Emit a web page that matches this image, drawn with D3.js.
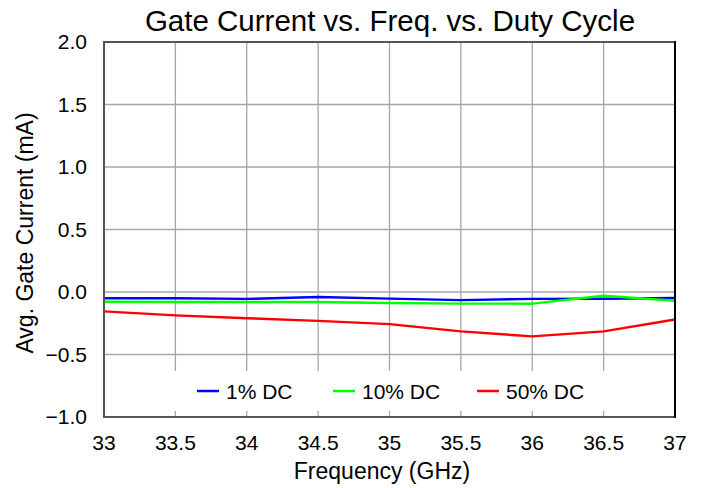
<!DOCTYPE html>
<html>
<head>
<meta charset="utf-8">
<script src="https://d3js.org/d3.v7.min.js"></script>
<title>Gate Current vs. Freq. vs. Duty Cycle</title>
<style>
  body { margin: 0; background: #fff; }
  text { font-family: "Liberation Sans", Arial, sans-serif; fill: #000; }
</style>
</head>
<body>
<div id="chart"></div>
<script>
// data
var freq = [33, 33.5, 34, 34.5, 35, 35.5, 36, 36.5, 37];
var dc1  = [-0.05, -0.05, -0.055, -0.04, -0.053, -0.065, -0.055, -0.053, -0.048];
var dc10 = [-0.078, -0.08, -0.08, -0.08, -0.088, -0.093, -0.093, -0.03, -0.07];
var dc50 = [-0.155, -0.187, -0.21, -0.231, -0.257, -0.315, -0.355, -0.315, -0.22];
var seriesNames = ["1% DC", "10% DC", "50% DC"];
var seriesColors = ["#0000ff", "#00ff00", "#ff0000"];
var xTicks = [33, 33.5, 34, 34.5, 35, 35.5, 36, 36.5, 37];
var yTicks = [-1.0, -0.5, 0.0, 0.5, 1.0, 1.5, 2.0];

var width = 702, height = 488;
var pLeft = 104, pRight = 675, pTop = 42, pBottom = 417;

var svg = d3.select("#chart").append("svg")
  .attr("width", width)
  .attr("height", height);

var x = d3.scaleLinear().domain([33, 37]).range([pLeft, pRight]);
var y = d3.scaleLinear().domain([-1, 2]).range([pBottom, pTop]);

// grid
svg.append("g").selectAll("line")
  .data(xTicks.slice(1, -1)).enter()
  .append("line")
  .attr("x1", function(d) { return x(d); })
  .attr("x2", function(d) { return x(d); })
  .attr("y1", pTop).attr("y2", pBottom)
  .attr("stroke", "#a6a6a6").attr("stroke-width", 1.3);

svg.append("g").selectAll("line")
  .data(yTicks.slice(1, -1)).enter()
  .append("line")
  .attr("x1", pLeft).attr("x2", pRight)
  .attr("y1", function(d) { return y(d); })
  .attr("y2", function(d) { return y(d); })
  .attr("stroke", "#a6a6a6").attr("stroke-width", 1.3);

// series
var series = [dc1, dc10, dc50];
var line = d3.line()
  .x(function(d, i) { return x(freq[i]); })
  .y(function(d) { return y(d); });

series.forEach(function(s, k) {
  svg.append("path")
    .datum(s)
    .attr("d", line)
    .attr("fill", "none")
    .attr("stroke", seriesColors[k])
    .attr("stroke-width", 2.5)
    .attr("stroke-linejoin", "round");
});

// legend (white box over the grid)
svg.append("rect")
  .attr("x", 130).attr("y", 371)
  .attr("width", 520).attr("height", 40)
  .attr("fill", "#fff");

var legendX = [197, 333, 477];
seriesNames.forEach(function(name, k) {
  var g = svg.append("g").attr("transform", "translate(" + legendX[k] + ",391)");
  g.append("line")
    .attr("x1", 0).attr("x2", 22)
    .attr("y1", 0).attr("y2", 0)
    .attr("stroke", seriesColors[k]).attr("stroke-width", 2.5);
  g.append("text")
    .attr("x", 29).attr("y", 7.5)
    .attr("font-size", 21)
    .text(name);
});

// frame
svg.append("rect")
  .attr("x", pLeft).attr("y", pTop)
  .attr("width", pRight - pLeft).attr("height", pBottom - pTop)
  .attr("fill", "none")
  .attr("stroke", "#555").attr("stroke-width", 2);
svg.append("line")
  .attr("x1", pRight).attr("x2", pRight)
  .attr("y1", pTop - 1).attr("y2", pBottom + 1)
  .attr("stroke", "#000").attr("stroke-width", 2);

// tick labels
svg.append("g").selectAll("text")
  .data(xTicks).enter()
  .append("text")
  .attr("x", function(d) { return x(d); })
  .attr("y", 450)
  .attr("text-anchor", "middle")
  .attr("font-size", 21)
  .text(function(d) { return d3.format("")(d); });

svg.append("g").selectAll("text")
  .data(yTicks).enter()
  .append("text")
  .attr("x", 87)
  .attr("y", function(d) { return y(d) + 7; })
  .attr("text-anchor", "end")
  .attr("font-size", 21)
  .text(function(d) { return d3.format(".1f")(d); });

// titles
svg.append("text")
  .attr("x", 390).attr("y", 31)
  .attr("text-anchor", "middle")
  .attr("font-size", 29.5)
  .text("Gate Current vs. Freq. vs. Duty Cycle");

svg.append("text")
  .attr("x", 382).attr("y", 479)
  .attr("text-anchor", "middle")
  .attr("font-size", 23)
  .text("Frequency (GHz)");

svg.append("text")
  .attr("transform", "translate(33,233) rotate(-90)")
  .attr("text-anchor", "middle")
  .attr("font-size", 23)
  .text("Avg. Gate Current (mA)");
</script>
</body>
</html>
